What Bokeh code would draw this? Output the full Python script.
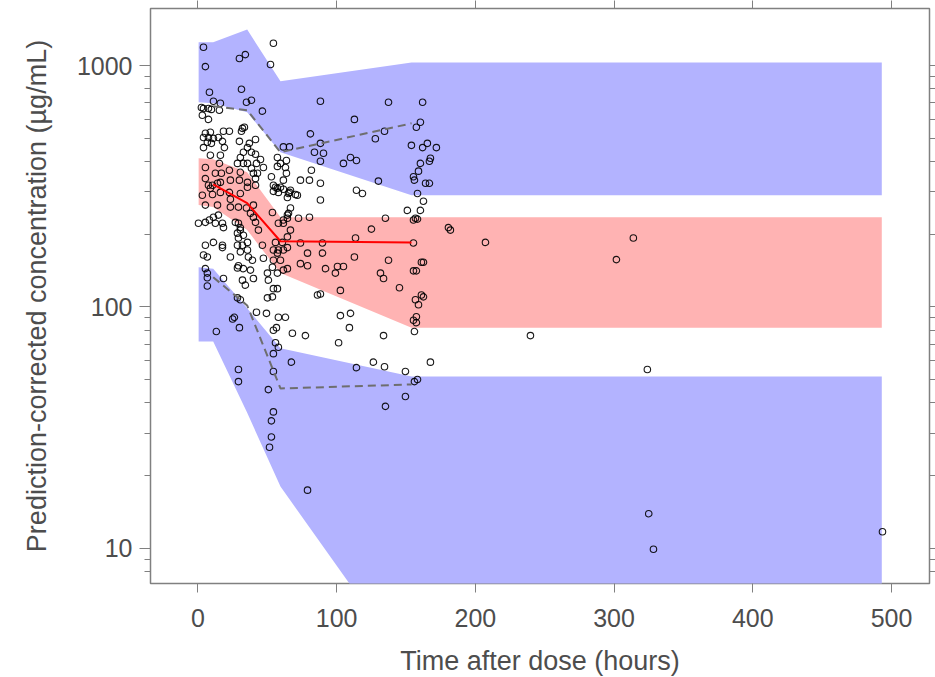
from bokeh.plotting import figure
from bokeh.models import Range1d, FixedTicker, LogAxis, LinearAxis, NumeralTickFormatter, CustomJSTickFormatter
from bokeh.embed import file_html
from bokeh.resources import INLINE

# ---------------- data ----------------
# bin positions (hours) of the simulated bands and observed percentile lines
band_time = [0.5, 11, 35.5, 59.5, 154, 493]
line_time = [11, 35.5, 59.5, 154]

# 95% CI of the simulated 95th percentile
p95_ci_hi = [1250, 1250, 1410, 860, 1030, 1030]
p95_ci_lo = [704, 698, 640, 437, 290, 290]
# 95% CI of the simulated median
p50_ci_hi = [413, 409, 361, 235, 235, 235]
p50_ci_lo = [264, 259, 208, 138, 82, 82]
# 95% CI of the simulated 5th percentile
p05_ci_hi = [146, 144, 98.6, 67.3, 51.5, 51.5]
p05_ci_lo = [71.9, 71.9, 36.4, 18.0, 3.1, 3.1]

# observed percentiles
obs_p95 = [678, 653, 437, 576]
obs_p50 = [322, 269, 187, 185]
obs_p05 = [132.6, 101.4, 45.9, 47.7]

# observed prediction-corrected concentrations (time h, conc ug/mL)
obs_bin1 = [(4.0, 1190), (5.4, 990), (8.3, 775), (11.2, 711), (16.2, 698), (2.5, 670), (4.0, 664),
            (7.6, 664), (9.7, 658), (15.5, 653), (3.2, 622), (7.6, 598), (5.4, 524), (9.0, 529),
            (18.4, 534), (22.7, 534), (4.0, 503), (7.6, 503), (6.8, 481), (11.2, 499), (14.8, 503),
            (4.0, 457), (9.7, 476), (17.7, 485), (19.1, 457), (16.2, 425), (9.0, 425), (15.5, 393),
            (12.6, 358), (16.9, 358), (5.4, 378), (5.4, 340), (14.1, 325), (10.5, 319), (16.2, 328),
            (22.7, 368), (23.4, 335), (7.6, 319), (9.0, 310), (3.2, 290), (10.5, 292), (16.2, 298),
            (22.7, 298), (5.4, 264), (14.1, 264), (23.4, 279), (23.4, 259), (0.4, 222), (5.4, 224),
            (8.3, 229), (11.2, 235), (14.8, 240), (12.6, 222), (17.7, 222), (18.4, 213), (5.4, 180),
            (11.2, 185), (17.7, 180), (17.7, 176), (4.0, 164), (6.8, 161), (5.4, 144), (6.8, 138),
            (6.8, 132), (6.8, 122), (18.4, 131), (23.4, 161), (13.3, 79)]
obs_bin2 = [(29.9, 1070), (34.2, 1110), (31.4, 797), (35.0, 704), (38.6, 718), (46.5, 647), (29.9, 485),
            (32.1, 549), (33.5, 555), (31.4, 534), (37.1, 476), (35.7, 457), (41.5, 494), (38.6, 437),
            (41.5, 429), (32.8, 437), (30.6, 416), (28.5, 393), (32.8, 393), (35.7, 393), (42.2, 393),
            (45.1, 408), (38.6, 375), (40.0, 358), (42.9, 358), (41.5, 340), (30.6, 361), (29.9, 335),
            (35.7, 328), (47.2, 378), (30.6, 295), (35.7, 313), (41.5, 319), (29.2, 259), (35.0, 257),
            (40.0, 264), (37.9, 244), (40.0, 235), (41.5, 224), (43.6, 208), (27.0, 224), (29.2, 222),
            (30.6, 213), (28.5, 202), (30.6, 208), (29.2, 193), (32.8, 198), (32.1, 180), (35.7, 185),
            (35.7, 172), (36.4, 161), (39.3, 156), (28.5, 180), (30.6, 169), (29.2, 148), (32.8, 144),
            (37.9, 142), (32.1, 129), (34.2, 123), (40.0, 131), (28.5, 145), (28.5, 109), (30.6, 107),
            (26.3, 90.5), (25.0, 89), (29.9, 82), (42.2, 95), (46.5, 180), (47.2, 159), (29.2, 55),
            (29.2, 49), (49.4, 94), (50.8, 45.4), (54.4, 36.7), (53.0, 33.7), (53.0, 28.9), (51.6, 26.2)]
obs_bin3 = [(54.4, 1237), (52.3, 1010), (57.3, 416), (59.5, 393), (63.8, 404), (63.1, 378), (63.8, 358),
            (61.6, 335), (59.5, 313), (58.0, 298), (61.6, 307), (66.0, 298), (70.3, 292), (64.5, 284),
            (55.9, 313), (54.4, 301), (57.3, 382), (53.0, 346), (54.4, 319), (61.6, 460), (66.0, 460),
            (57.3, 310), (65.3, 295), (66.7, 304), (71.7, 290), (53.7, 246), (58.0, 222), (64.5, 233),
            (66.7, 208), (61.6, 222), (65.3, 244), (66.7, 257), (55.9, 185), (60.9, 185), (64.5, 195),
            (53.7, 146), (54.4, 156), (57.3, 167), (59.5, 156), (54.4, 172), (58.0, 172), (61.6, 172),
            (64.5, 176), (61.6, 142), (64.5, 144), (57.3, 138), (50.1, 138), (50.8, 129), (50.1, 109),
            (53.7, 110), (54.4, 119), (57.3, 119), (58.0, 90.5), (63.1, 90.5), (56.6, 82), (54.4, 80),
            (68.1, 77.7), (55.9, 71), (54.4, 64), (58.0, 68), (67.4, 59), (54.4, 54), (61.6, 229),
            (64.5, 240), (73.9, 184), (72.5, 233), (79.0, 17.4)]
obs_bin4 = [(88.3, 711), (112.8, 598), (81.1, 521), (88.3, 476), (84.0, 437), (90.5, 433), (88.3, 401),
            (104.9, 393), (110.0, 416), (114.3, 404), (81.8, 368), (73.9, 335), (80.4, 335), (88.3, 325),
            (114.3, 304), (118.6, 295), (80.4, 235), (88.3, 277), (79.0, 167), (89.8, 184), (89.8, 167),
            (73.9, 151), (79.0, 148), (92.0, 144), (99.1, 138), (100.6, 147), (104.9, 147), (102.7, 117),
            (86.2, 112), (88.3, 113), (77.5, 76), (101.4, 71), (102.7, 92), (110.0, 94), (109.2, 82),
            (112.8, 161), (113.6, 193), (125.1, 210), (126.5, 59), (134.5, 56.5), (114.3, 56),
            (133.8, 76), (145.3, 120), (131.6, 138), (133.8, 131), (137.4, 156), (135.2, 233),
            (127.9, 497), (134.5, 534), (137.4, 704), (130.1, 332), (135.2, 38.7)]
obs_bin5 = [(157.5, 555), (160.4, 582), (162.0, 704), (153.9, 467), (162.0, 457), (165.4, 476),
            (171.9, 457), (167.6, 413), (166.9, 401), (160.4, 393), (159.0, 365), (155.4, 346),
            (156.1, 335), (164.1, 325), (166.9, 325), (158.3, 295), (151.0, 251), (155.4, 229),
            (158.3, 231), (160.4, 251), (162.6, 274), (156.8, 233), (155.4, 184), (155.4, 141),
            (157.5, 141), (161.1, 153), (162.6, 153), (156.8, 107), (159.0, 102), (161.1, 112),
            (162.6, 110), (157.5, 91), (155.4, 88), (157.5, 86), (156.1, 79), (167.6, 59), (149.6, 54),
            (156.1, 49), (158.3, 50), (149.6, 42.5)]
obs_late = [(180.6, 213), (182.0, 208), (207.3, 185), (301.7, 157), (313.9, 193), (239.7, 76),
            (324.0, 55), (325.0, 13.9), (328.4, 9.9), (493.5, 11.7)]

x_ticks = [0, 100, 200, 300, 400, 500]
y_ticks = [10, 100, 1000]
y_minor = [8, 9, 20, 30, 40, 50, 60, 70, 80, 90, 200, 300, 400, 500, 600, 700, 800, 900]

# ---------------- styling ----------------
FONT = "Liberation Sans"
TXT = "#4d4d4d"
AX = "#808080"
BLUE = "#b3b3ff"
RED = "#ffb3b3"

p = figure(frame_width=779, frame_height=575, y_axis_type="log",
           x_range=Range1d(-34.2, 527.4), y_range=Range1d(7.14, 1723),
           output_backend="svg", toolbar_location=None,
           min_border_left=150, min_border_right=6, min_border_top=8, min_border_bottom=94,
           background_fill_color="white", border_fill_color="white")
p.xgrid.visible = False
p.ygrid.visible = False
p.outline_line_color = AX
p.outline_line_width = 1.5

# bands
p.varea(x=band_time, y1=p95_ci_lo, y2=p95_ci_hi, fill_color=BLUE)
p.varea(x=band_time, y1=p50_ci_lo, y2=p50_ci_hi, fill_color=RED)
p.varea(x=band_time, y1=p05_ci_lo, y2=p05_ci_hi, fill_color=BLUE)

# points
all_obs = obs_bin1 + obs_bin2 + obs_bin3 + obs_bin4 + obs_bin5 + obs_late
p.scatter([o[0] for o in all_obs], [o[1] for o in all_obs], marker="circle", size=6.5,
          fill_color=None, line_color="black", line_width=1.1, line_alpha=0.9)

# observed percentile lines
p.line(line_time, obs_p50, line_color="red", line_width=2)
p.line(line_time, obs_p95, line_color="#6e6e6e", line_width=2, line_dash="8 5")
p.line(line_time, obs_p05, line_color="#6e6e6e", line_width=2, line_dash="8 5")

# axes
for ax in (p.xaxis[0], p.yaxis[0]):
    ax.axis_line_color = None
    ax.major_tick_line_color = AX
    ax.minor_tick_line_color = AX
    ax.major_tick_in = 0
    ax.minor_tick_in = 0
    ax.major_label_text_font = FONT
    ax.major_label_text_font_size = "25px"
    ax.major_label_text_color = TXT
    ax.axis_label_text_font = FONT
    ax.axis_label_text_font_size = "27px"
    ax.axis_label_text_font_style = "normal"
    ax.axis_label_text_color = TXT

p.xaxis.ticker = FixedTicker(ticks=x_ticks)
p.xaxis.major_tick_out = 9
p.xaxis.major_label_standoff = 16
p.xaxis.axis_label = "Time after dose (hours)"
p.xaxis.axis_label_standoff = 16

p.yaxis.ticker = FixedTicker(ticks=y_ticks, minor_ticks=y_minor)
p.yaxis.formatter = NumeralTickFormatter(format="0")
p.yaxis.major_tick_out = 11
p.yaxis.minor_tick_out = 6
p.yaxis.major_label_standoff = 7
p.yaxis.axis_label = "Prediction-corrected concentration (µg/mL)"
p.yaxis.axis_label_standoff = 22

blank = CustomJSTickFormatter(code="return ''")
right = LogAxis(ticker=FixedTicker(ticks=y_ticks, minor_ticks=y_minor),
                formatter=blank, major_label_standoff=0,
                axis_line_color=None, major_tick_line_color=AX, minor_tick_line_color=AX,
                major_tick_in=0, minor_tick_in=0, major_tick_out=6, minor_tick_out=6)
p.add_layout(right, "right")

top = LinearAxis(ticker=FixedTicker(ticks=x_ticks), formatter=blank, major_label_standoff=0,
                 axis_line_color=None, major_tick_line_color=AX,
                 major_tick_in=0, minor_tick_in=0, major_tick_out=8, minor_tick_out=0)
p.add_layout(top, "above")

open("out.html", "w").write(file_html(p, INLINE))
